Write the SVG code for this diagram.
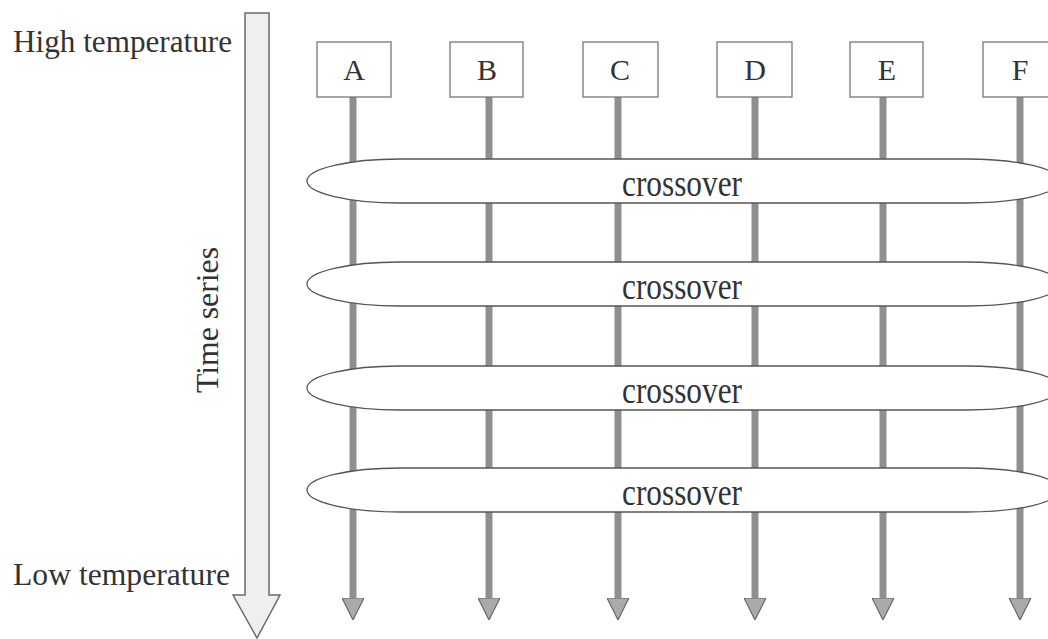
<svg xmlns="http://www.w3.org/2000/svg" width="1048" height="639" viewBox="0 0 1048 639">
<style>
.box{fill:#fff;stroke:#777;stroke-width:1.3}
.wire{stroke:#8f8f8f;stroke-width:7;fill:none}
.xo{fill:#fff;stroke:#555;stroke-width:1.3}
.big{fill:#efefef;stroke:#6a6a6a;stroke-width:1.5}
</style>
<defs>
<marker id="ah" markerUnits="userSpaceOnUse" viewBox="0 0 22 22" markerWidth="22" markerHeight="22" refX="1" refY="11" orient="auto">
<path d="M0,0 L22,11 L0,22 Z" fill="#aaa" stroke="#666" stroke-width="1.2"/>
</marker>
</defs>
<rect width="1048" height="639" fill="#fff"/>
<g font-family="Liberation Serif, Times New Roman, DejaVu Serif, serif" fill="#333">
<g id="time-axis">
<path class="big" d="M245,13 L269,13 L269,595 L280,595 L257,638 L233,595 L245,595 Z"/>
<text x="13" y="52" font-size="31" textLength="219" lengthAdjust="spacingAndGlyphs">High temperature</text>
<text x="13" y="585" font-size="31" textLength="217" lengthAdjust="spacingAndGlyphs">Low temperature</text>
<text font-size="31" text-anchor="middle" transform="translate(218,320) rotate(-90)" textLength="146" lengthAdjust="spacingAndGlyphs">Time series</text>
</g>
<g id="connectors">
<line class="wire" x1="353" y1="97" x2="353" y2="599" marker-end="url(#ah)"/>
<line class="wire" x1="489" y1="97" x2="489" y2="599" marker-end="url(#ah)"/>
<line class="wire" x1="618" y1="97" x2="618" y2="599" marker-end="url(#ah)"/>
<line class="wire" x1="755" y1="97" x2="755" y2="599" marker-end="url(#ah)"/>
<line class="wire" x1="883" y1="97" x2="883" y2="599" marker-end="url(#ah)"/>
<line class="wire" x1="1020" y1="97" x2="1020" y2="599" marker-end="url(#ah)"/>
</g>
<g id="node-A"><rect class="box" x="317" y="42" width="74" height="55"/><text x="354" y="80" font-size="30" text-anchor="middle">A</text></g>
<g id="node-B"><rect class="box" x="450" y="42" width="73" height="55"/><text x="487" y="80" font-size="30" text-anchor="middle">B</text></g>
<g id="node-C"><rect class="box" x="583" y="42" width="75" height="55"/><text x="620" y="80" font-size="30" text-anchor="middle">C</text></g>
<g id="node-D"><rect class="box" x="717" y="42" width="75" height="55"/><text x="755" y="80" font-size="30" text-anchor="middle">D</text></g>
<g id="node-E"><rect class="box" x="850" y="42" width="73" height="55"/><text x="887" y="80" font-size="30" text-anchor="middle">E</text></g>
<g id="node-F"><rect class="box" x="983" y="42" width="74" height="55"/><text x="1020" y="80" font-size="30" text-anchor="middle">F</text></g>
<g id="crossover-1"><path class="xo" d="M400,159 L967,159 A93,22 0 0 1 967,203 L400,203 A93,22 0 0 1 400,159 Z"/><text x="682" y="196" font-size="38" text-anchor="middle" textLength="120" lengthAdjust="spacingAndGlyphs">crossover</text></g>
<g id="crossover-2"><path class="xo" d="M400,262 L967,262 A93,22 0 0 1 967,306 L400,306 A93,22 0 0 1 400,262 Z"/><text x="682" y="299" font-size="38" text-anchor="middle" textLength="120" lengthAdjust="spacingAndGlyphs">crossover</text></g>
<g id="crossover-3"><path class="xo" d="M400,366 L967,366 A93,22 0 0 1 967,410 L400,410 A93,22 0 0 1 400,366 Z"/><text x="682" y="403" font-size="38" text-anchor="middle" textLength="120" lengthAdjust="spacingAndGlyphs">crossover</text></g>
<g id="crossover-4"><path class="xo" d="M400,468 L967,468 A93,22 0 0 1 967,512 L400,512 A93,22 0 0 1 400,468 Z"/><text x="682" y="505" font-size="38" text-anchor="middle" textLength="120" lengthAdjust="spacingAndGlyphs">crossover</text></g>
</g>
</svg>
